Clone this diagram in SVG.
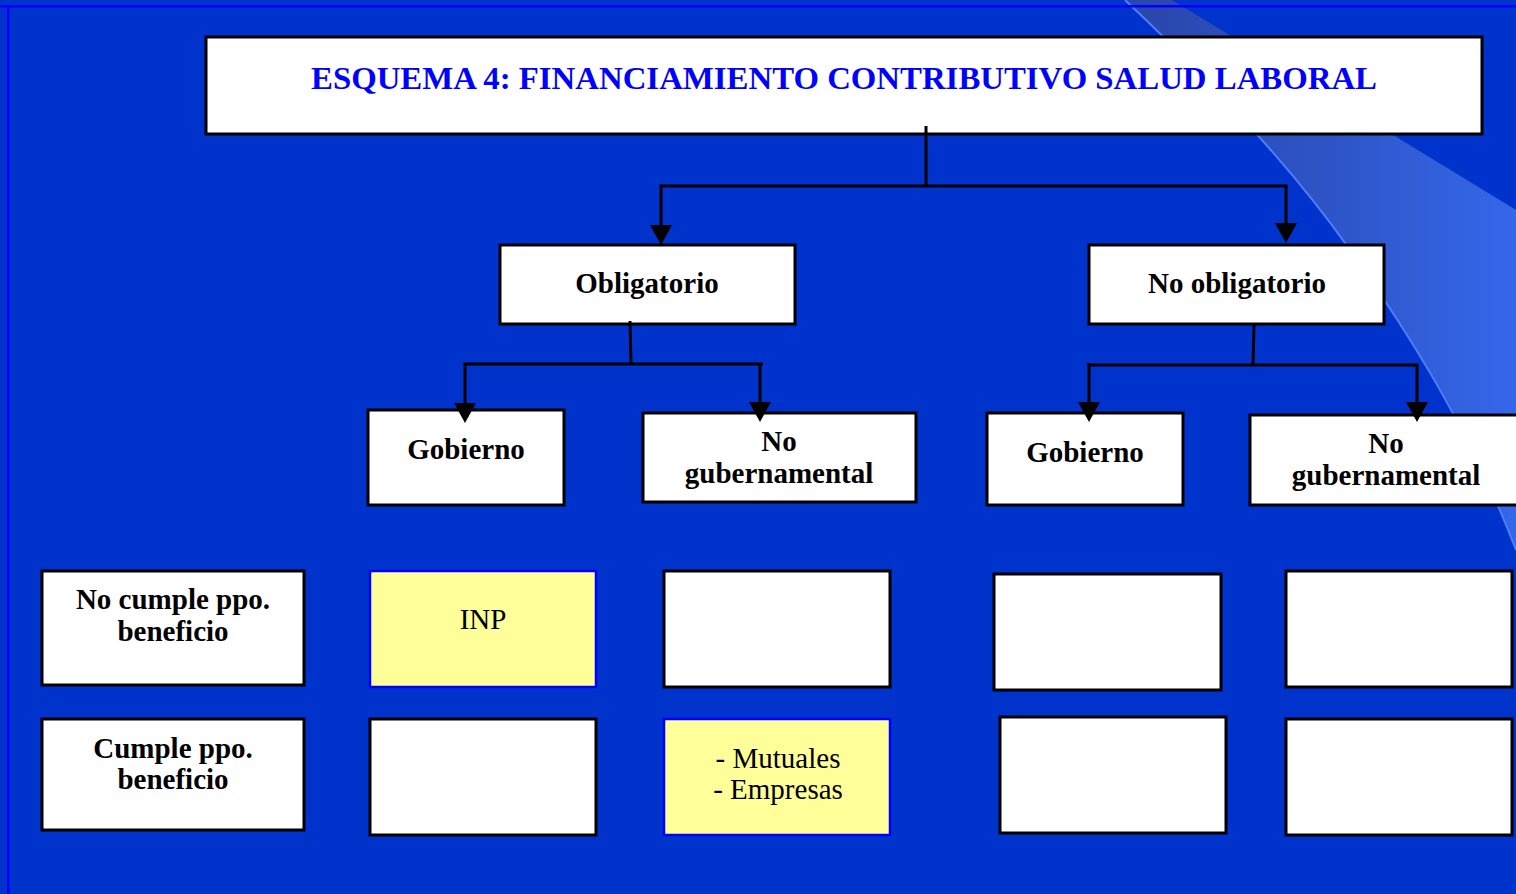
<svg xmlns="http://www.w3.org/2000/svg" width="1516" height="894" viewBox="0 0 1516 894">
<defs>
<linearGradient id="band" x1="1150" y1="0" x2="1516" y2="0" gradientUnits="userSpaceOnUse">
<stop offset="0" stop-color="#2a47ad"/>
<stop offset="0.5" stop-color="#2e55c8"/>
<stop offset="1" stop-color="#3567ea"/>
</linearGradient>
<marker id="arr" markerUnits="userSpaceOnUse" markerWidth="20" markerHeight="22" viewBox="0 0 20 22" refX="14" refY="11" orient="auto">
<path d="M0,0 L20,11 L0,22 Z" fill="#000"/>
</marker>
<style>
.box{fill:#fff;stroke:#000;stroke-width:3}
.ybox{fill:#ffff99;stroke:#0000ff;stroke-width:2.5}
.lbl{font-family:"Liberation Serif","Times New Roman",serif;font-weight:bold;font-size:29px;fill:#000;text-anchor:middle}
.reg{font-family:"Liberation Serif","Times New Roman",serif;font-size:29px;fill:#000;text-anchor:middle}
.ttl{font-family:"Liberation Serif","Times New Roman",serif;font-weight:bold;font-size:32.5px;fill:#0000ff;text-anchor:middle}
.con{fill:none;stroke:#000;stroke-width:3}
</style>
</defs>
<rect x="0" y="0" width="1516" height="894" fill="#0033cc"/>
<path d="M1125,0 C1210,80 1290,165 1350,250 S1470,430 1516,550 L1516,210 L1172,0 Z" fill="url(#band)"/>
<path d="M1125,0 C1210,80 1290,165 1350,250 S1470,430 1516,550" fill="none" stroke="#4d7dff" stroke-width="2"/>
<rect x="0" y="5" width="1516" height="2.5" fill="#0000ff"/>
<rect x="7" y="5" width="2.5" height="889" fill="#0000ff"/>

<g id="title">
<rect class="box" x="206" y="37" width="1276" height="97"/>
<text class="ttl" x="844" y="89" textLength="1066" lengthAdjust="spacingAndGlyphs">ESQUEMA 4: FINANCIAMIENTO CONTRIBUTIVO SALUD LABORAL</text>
</g>

<g id="obligatorio">
<rect class="box" x="500" y="245" width="295" height="79"/>
<text class="lbl" x="647" y="293">Obligatorio</text>
</g>
<g id="no-obligatorio">
<rect class="box" x="1089" y="245" width="295" height="79"/>
<text class="lbl" x="1237" y="293">No obligatorio</text>
</g>

<g id="gobierno-1">
<rect class="box" x="368" y="410" width="196" height="95"/>
<text class="lbl" x="466" y="459">Gobierno</text>
</g>
<g id="no-gubernamental-1">
<rect class="box" x="643" y="413" width="273" height="89"/>
<text class="lbl" x="779" y="451">No</text>
<text class="lbl" x="779" y="483">gubernamental</text>
</g>
<g id="gobierno-2">
<rect class="box" x="987" y="413" width="196" height="92"/>
<text class="lbl" x="1085" y="462">Gobierno</text>
</g>
<g id="no-gubernamental-2">
<rect class="box" x="1250" y="415" width="272" height="90"/>
<text class="lbl" x="1386" y="453">No</text>
<text class="lbl" x="1386" y="485">gubernamental</text>
</g>

<g id="no-cumple">
<rect class="box" x="42" y="571" width="262" height="114"/>
<text class="lbl" x="173" y="609">No cumple ppo.</text>
<text class="lbl" x="173" y="641">beneficio</text>
</g>
<g id="cumple">
<rect class="box" x="42" y="719" width="262" height="111"/>
<text class="lbl" x="173" y="758">Cumple ppo.</text>
<text class="lbl" x="173" y="789">beneficio</text>
</g>

<g id="inp">
<rect class="ybox" x="370" y="571" width="226" height="116"/>
<text class="reg" x="483" y="629">INP</text>
</g>
<g id="r1c2">
<rect class="box" x="664" y="571" width="226" height="116"/>
</g>
<g id="r1c3">
<rect class="box" x="994" y="574" width="227" height="116"/>
</g>
<g id="r1c4">
<rect class="box" x="1286" y="571" width="226" height="116"/>
</g>

<g id="r2c1">
<rect class="box" x="370" y="719" width="226" height="116"/>
</g>
<g id="mutuales">
<rect class="ybox" x="664" y="719" width="226" height="116"/>
<text class="reg" x="778" y="768">- Mutuales</text>
<text class="reg" x="778" y="799">- Empresas</text>
</g>
<g id="r2c3">
<rect class="box" x="1000" y="717" width="226" height="116"/>
</g>
<g id="r2c4">
<rect class="box" x="1286" y="719" width="226" height="116"/>
</g>

<g id="connectors">
<path class="con" d="M926,126 V186"/>
<path class="con" d="M659.5,186 H1287.5"/>
<path class="con" d="M661,186 V239" marker-end="url(#arr)"/>
<path class="con" d="M1286,186 V237" marker-end="url(#arr)"/>
<path class="con" d="M630,321 L631,364"/>
<path class="con" d="M463.5,364 H763"/>
<path class="con" d="M465,364 V417" marker-end="url(#arr)"/>
<path class="con" d="M760,364 V416" marker-end="url(#arr)"/>
<path class="con" d="M1254,324 L1253,365"/>
<path class="con" d="M1087.5,365 H1418.5"/>
<path class="con" d="M1089,363 V416" marker-end="url(#arr)"/>
<path class="con" d="M1417,365 V416" marker-end="url(#arr)"/>
</g>
</svg>
